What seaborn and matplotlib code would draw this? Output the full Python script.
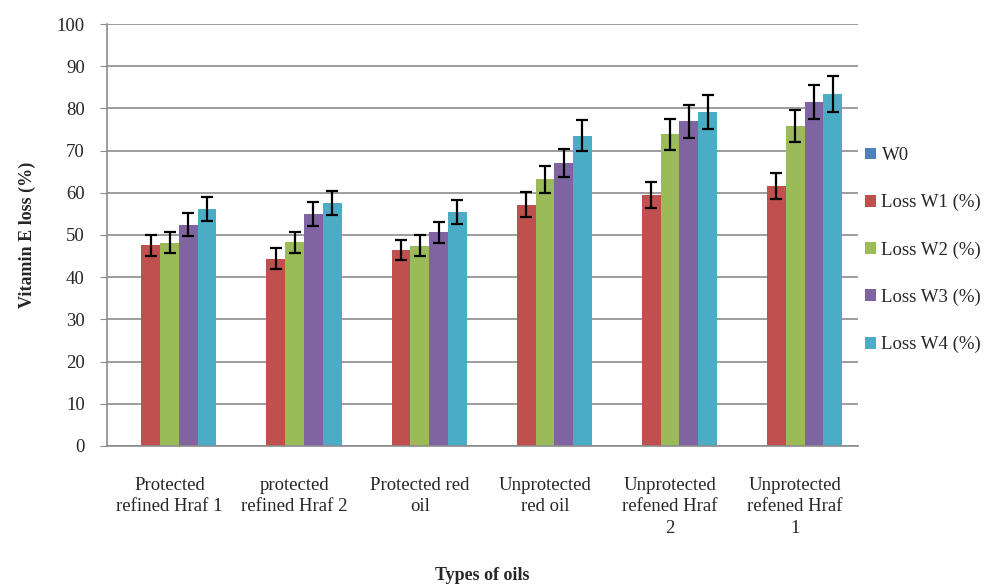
import numpy as np
import pandas as pd
import matplotlib
matplotlib.use("Agg")
import matplotlib.pyplot as plt
import seaborn as sns

# data
oils = ["Protected\nrefined Hraf 1", "protected\nrefined Hraf 2", "Protected red\noil",
        "Unprotected\nred oil", "Unprotected\nrefened Hraf\n2", "Unprotected\nrefened Hraf\n1"]
series = ["W0", "Loss W1 (%)", "Loss W2 (%)", "Loss W3 (%)", "Loss W4 (%)"]
w0 = [0, 0, 0, 0, 0, 0]
loss_w1 = [47.6, 44.4, 46.5, 57.2, 59.5, 61.6]
loss_w2 = [48.2, 48.3, 47.5, 63.2, 73.9, 75.8]
loss_w3 = [52.4, 55.0, 50.6, 67.0, 77.0, 81.5]
loss_w4 = [56.1, 57.6, 55.4, 73.5, 79.1, 83.4]
err_w1 = [2.5, 2.4, 2.4, 2.9, 3.0, 3.1]
err_w2 = [2.5, 2.5, 2.4, 3.2, 3.7, 3.8]
err_w3 = [2.7, 2.8, 2.5, 3.35, 3.9, 4.1]
err_w4 = [2.9, 2.9, 2.8, 3.7, 4.0, 4.3]
colors = ["#4F81BD", "#C0504D", "#9BBB59", "#8064A2", "#4BACC6"]

values = [w0, loss_w1, loss_w2, loss_w3, loss_w4]
errors = [None, err_w1, err_w2, err_w3, err_w4]
df = pd.DataFrame({
    "oil": oils * len(series),
    "series": np.repeat(series, len(oils)),
    "value": np.concatenate(values),
})

sns.set_style("white")
plt.rcParams["font.family"] = ["Liberation Serif", "DejaVu Serif"]

fig = plt.figure(figsize=(9.95, 5.86), dpi=100)
ax = fig.add_axes([0.1075, 0.239, 0.7545, 0.72])

sns.barplot(data=df, x="oil", y="value", hue="series", order=oils, hue_order=series,
            palette=colors, width=0.75, saturation=1, errorbar=None, linewidth=0, ax=ax)

# error bars on top of each bar
for cont, err in zip(ax.containers, errors):
    if err is None:
        continue
    xs = [b.get_x() + b.get_width() / 2 for b in cont]
    hs = [b.get_height() for b in cont]
    ax.errorbar(xs, hs, yerr=err, fmt="none", ecolor="black", elinewidth=1.6,
                capsize=4.3, capthick=1.6, zorder=5)

ax.set_ylim(0, 100)
ax.set_yticks(range(0, 101, 10))
ax.set_xlim(-0.5, len(oils) - 0.5)
ax.grid(axis="y", color="#8c8c8c", linewidth=1.2)
ax.set_axisbelow(True)
for s in ["top", "right"]:
    ax.spines[s].set_visible(False)
for s in ["left", "bottom"]:
    ax.spines[s].set_color("#8c8c8c")
    ax.spines[s].set_linewidth(1.2)

ax.tick_params(axis="y", labelsize=13.5, length=5, color="#8c8c8c", left=True, pad=11)
ax.tick_params(axis="x", labelsize=13.5, length=0, pad=22)
for lab in ax.get_xticklabels():
    lab.set_linespacing(1.35)

ax.set_ylabel("Vitamin E loss (%)", fontsize=13, fontweight="bold", labelpad=15)
ax.set_xlabel("Types of oils", fontsize=13, fontweight="bold", labelpad=22)

handles, labels = ax.get_legend_handles_labels()
ax.legend(handles, labels, loc="center left", bbox_to_anchor=(0.852, 0.573),
          bbox_transform=fig.transFigure, frameon=False, fontsize=13.5,
          handlelength=0.6, handleheight=0.6, handletextpad=0.3, labelspacing=1.6)

fig.savefig("out.png", dpi=100)
